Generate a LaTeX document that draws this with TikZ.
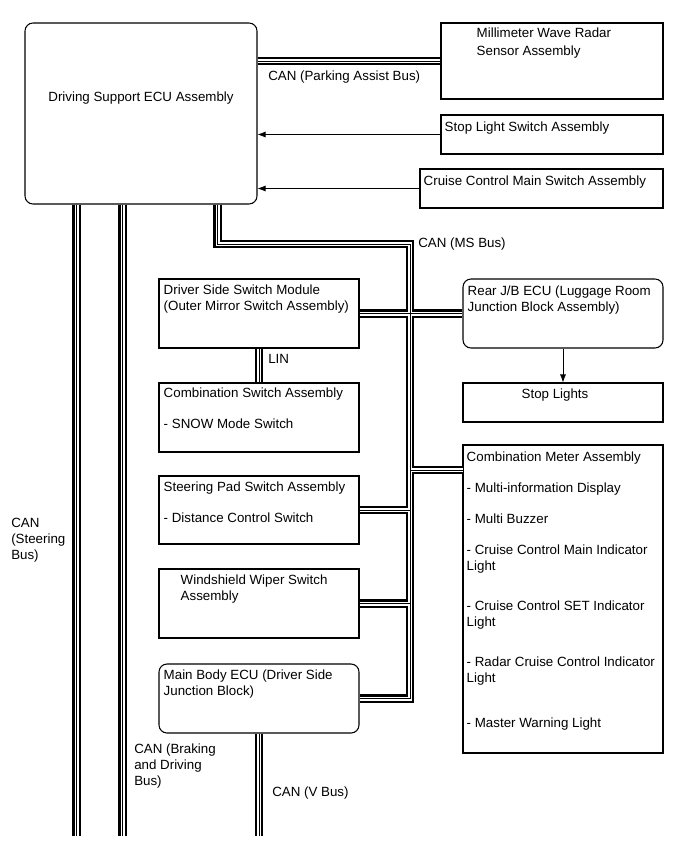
\documentclass[tikz,border=0pt]{standalone}
\usepackage{fontspec}
\setmainfont{Liberation Sans}
\usetikzlibrary{positioning, arrows.meta, fit, calc}

\begin{document}
\begin{tikzpicture}[x=0.75pt, y=-0.75pt,
  every node/.style={font=\fontsize{10}{12}\selectfont},
  unit/.style={draw, line width=0.8pt, inner sep=0pt},
  ecubox/.style={unit, rounded corners=6pt},
  txt/.style={anchor=north west, inner sep=0pt, align=left},
  lbl/.style={anchor=west, inner sep=0pt, align=left},
  bus/.style={draw=white, line width=3pt, preaction={draw=black, line width=6.4pt}, postaction={draw=black, line width=0.6pt}},
  sig/.style={line width=0.6pt, -{Latex[length=6pt, width=4.5pt]}}]
\useasboundingbox (0,0) rectangle (689,853);

% units
\node[ecubox, fit={(25,23)(257,204)}] (ecu) {};
\node[unit, fit={(441,23)(663,99)}] (radar) {};
\node[unit, fit={(441,115)(663,154)}] (stopsw) {};
\node[unit, fit={(420,169)(663,208)}] (cruisesw) {};
\node[unit, fit={(159,279)(359,348)}] (drvsw) {};
\node[ecubox, fit={(463,279)(663,348)}] (rearjb) {};
\node[unit, fit={(463,383)(663,422)}] (stoplt) {};
\node[unit, fit={(159,383)(359,452)}] (combsw) {};
\node[unit, fit={(463,445)(663,753)}] (meter) {};
\node[unit, fit={(159,476)(359,544)}] (steer) {};
\node[unit, fit={(159,569)(359,638)}] (wiper) {};
\node[ecubox, fit={(159,664)(359,733)}] (mainbody) {};

% texts
\node[txt, anchor=north] (ecutxt) at ($(ecu.north)+(0,69)$) {Driving Support ECU Assembly};
\node[txt] (radartxt) at ($(radar.north west)+(36,5)$) {Millimeter Wave Radar\\[1.5pt]Sensor Assembly};
\node[txt] (stopswtxt) at ($(stopsw.north west)+(4,7)$) {Stop Light Switch Assembly};
\node[txt] (cruiseswtxt) at ($(cruisesw.north west)+(4,7)$) {Cruise Control Main Switch Assembly};
\node[txt] (drvswtxt) at ($(drvsw.north west)+(5,6)$) {Driver Side Switch Module\\(Outer Mirror Switch Assembly)};
\node[txt] (rearjbtxt) at ($(rearjb.north west)+(5,7)$) {Rear J/B ECU (Luggage Room\\Junction Block Assembly)};
\node[txt, anchor=north] (stoplttxt) at ($(stoplt.north)+(-8,6)$) {Stop Lights};
\node[txt] (combswtxt) at ($(combsw.north west)+(5,5)$) {Combination Switch Assembly\\[11pt]- SNOW Mode Switch};
\node[txt] (steertxt) at ($(steer.north west)+(5,6)$) {Steering Pad Switch Assembly\\[11pt]- Distance Control Switch};
\node[txt] (wipertxt) at ($(wiper.north west)+(22,6)$) {Windshield Wiper Switch\\Assembly};
\node[txt] (mainbodytxt) at ($(mainbody.north west)+(5,6)$) {Main Body ECU (Driver Side\\Junction Block)};
\node[txt] (metertxt) at ($(meter.north west)+(4,7)$) {Combination Meter Assembly\\[11.25pt]
  - Multi-information Display\\[11.25pt]
  - Multi Buzzer\\[11.25pt]
  - Cruise Control Main Indicator\\Light\\[18pt]
  - Cruise Control SET Indicator\\Light\\[18pt]
  - Radar Cruise Control Indicator\\Light\\[21.75pt]
  - Master Warning Light};

% bus taps
\coordinate (msbend) at (217.5,244);
\coordinate (mstop) at (410,244);
\coordinate (mtap) at (463,470);
\coordinate (steerbus) at (76.5,836);
\coordinate (brakebus) at (122.5,836);
\coordinate (cut) at (0,836);

% buses
\draw[bus] (radar.west) -- (radar.west -| ecu.east);
\draw[bus] (ecu.south -| msbend) |- (mstop) -- (mstop |- mainbody.east) -- (mainbody.east)
  (drvsw.east) -- (rearjb.west)
  (mstop |- mtap) -- (mtap)
  (steer.east) -- (steer.east -| mstop)
  (wiper.east) -- (wiper.east -| mstop);
\draw[bus] (drvsw.south) -- (combsw.north);
\draw[bus] (ecu.south -| steerbus) -- (steerbus);
\draw[bus] (ecu.south -| brakebus) -- (brakebus);
\draw[bus] (mainbody.south) -- (mainbody.south |- cut);

% signal lines
\draw[sig] (stopsw.west) -- (stopsw.west -| ecu.east);
\draw[sig] (cruisesw.west) -- (cruisesw.west -| ecu.east);
\draw[sig] (rearjb.south) -- (stoplt.north);

% bus labels
\node[lbl] (parklbl) at (268,77) {CAN (Parking Assist Bus)};
\node[lbl] (mslbl) at (418,244) {CAN (MS Bus)};
\node[lbl] (linlbl) at (268,359) {LIN};
\node[lbl] (vlbl) at (272,793) {CAN (V Bus)};
\node[txt] (steerlbl) at (11,518) {CAN\\(Steering\\Bus)};
\node[txt] (brakelbl) at (134,744) {CAN (Braking\\and Driving\\Bus)};
\end{tikzpicture}
\end{document}
